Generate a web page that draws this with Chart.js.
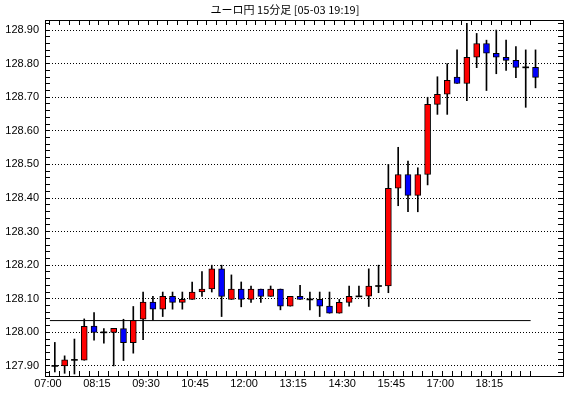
<!DOCTYPE html>
<html lang="ja">
<head>
<meta charset="UTF-8">
<title>ユーロ円 15分足</title>
<script src="https://cdn.jsdelivr.net/npm/chart.js@4.4.0/dist/chart.umd.min.js"></script>
<style>
  body { margin: 0; background: #fff; }
  #wrap { width: 570px; height: 398px; }
</style>
</head>
<body>
<div id="wrap"><canvas id="chart"></canvas></div>
<script>
    const chartTitle = 'ユーロ円 15分足 [05-03 19:19]';
    // one label every 5 bars (75 min)
    const timeLabels = ['07:00', '08:15', '09:30', '10:45', '12:00', '13:15', '14:30', '15:45', '17:00', '18:15'];
    const yMajor = [127.9, 128.0, 128.1, 128.2, 128.3, 128.4, 128.5, 128.6, 128.7, 128.8, 128.9];

    // 15 minute candles, 07:00 .. 19:15
    const opens = [127.900, 127.900, 127.918, 127.917, 128.019, 128.000, 128.000, 128.011, 127.969, 128.039,
                   128.090, 128.069, 128.107, 128.089, 128.098, 128.120, 128.129, 128.189, 128.098, 128.129,
                   128.098, 128.129, 128.107, 128.129, 128.078, 128.107, 128.098, 128.098, 128.078, 128.057,
                   128.089, 128.107, 128.108, 128.138, 128.138, 128.429, 128.470, 128.408, 128.470, 128.679,
                   128.709, 128.760, 128.741, 128.819, 128.860, 128.831, 128.819, 128.810, 128.789, 128.789];
    const highs = [127.970, 127.930, 127.980, 128.040, 128.059, 128.011, 128.012, 128.039, 128.077, 128.120,
                   128.107, 128.120, 128.120, 128.120, 128.150, 128.181, 128.200, 128.200, 128.171, 128.150,
                   128.138, 128.129, 128.138, 128.129, 128.107, 128.140, 128.120, 128.120, 128.120, 128.098,
                   128.138, 128.138, 128.189, 128.200, 128.500, 128.551, 128.510, 128.490, 128.700, 128.761,
                   128.800, 128.841, 128.920, 128.890, 128.870, 128.900, 128.870, 128.851, 128.841, 128.841];
    const lows = [127.882, 127.878, 127.876, 127.917, 127.977, 127.968, 127.900, 127.916, 127.938, 127.978,
                  128.036, 128.047, 128.069, 128.069, 128.098, 128.107, 128.120, 128.047, 128.098, 128.076,
                  128.089, 128.089, 128.107, 128.067, 128.078, 128.098, 128.067, 128.047, 128.057, 128.057,
                  128.078, 128.107, 128.077, 128.118, 128.118, 128.377, 128.359, 128.359, 128.439, 128.649,
                  128.649, 128.741, 128.690, 128.788, 128.720, 128.770, 128.780, 128.758, 128.670, 128.728];
    const closes = [127.900, 127.918, 127.918, 128.018, 128.000, 128.000, 128.012, 127.969, 128.036, 128.090,
                    128.069, 128.107, 128.089, 128.098, 128.120, 128.129, 128.189, 128.107, 128.129, 128.098,
                    128.129, 128.107, 128.129, 128.078, 128.107, 128.098, 128.098, 128.078, 128.057, 128.089,
                    128.107, 128.107, 128.138, 128.138, 128.429, 128.470, 128.408, 128.470, 128.679, 128.709,
                    128.750, 128.741, 128.819, 128.860, 128.831, 128.819, 128.810, 128.789, 128.789, 128.759];

    // flat reference line
    const baseLine = 128.035;
    const baseFrom = -0.5;
    const baseTo = 48.5;

    const font = {family: 'Liberation Sans', size: 11};
    const slotTicks = s => { s.ticks = opens.map((_, i) => ({value: i - 0.5})); };
    const isMajor = v => Math.abs(v * 10 - Math.round(v * 10)) < 1e-6;
    const minorTicks = s => {
        s.ticks = [];
        for (let k = 0; k <= 52; k++) s.ticks.push({value: Math.round((127.88 + k * 0.02) * 100) / 100});
    };

    const wickData = opens.map((_, i) => ({x: i, y: [lows[i], highs[i]]}));
    const bodyData = opens.map((o, i) => o === closes[i]
        ? {x: i, y: [o - 0.0015, o + 0.0015]}
        : {x: i, y: [o, closes[i]]});
    const bodyColor = opens.map((o, i) => closes[i] > o ? '#ff0000' : (closes[i] < o ? '#0000ff' : '#000000'));
    const bodyBorder = opens.map((o, i) => o === closes[i] ? 0 : 1);

    new Chart(document.getElementById('chart'), {
        type: 'bar',
        data: {
            datasets: [
                {
                    type: 'line',
                    data: [{x: baseFrom, y: baseLine}, {x: baseTo, y: baseLine}],
                    borderColor: '#000',
                    borderWidth: 1,
                    pointRadius: 0,
                    order: 0
                },
                {
                    data: bodyData,
                    grouped: false,
                    barThickness: 6,
                    backgroundColor: bodyColor,
                    borderColor: '#000',
                    borderWidth: bodyBorder,
                    borderSkipped: false,
                    order: 1
                },
                {
                    data: wickData,
                    grouped: false,
                    barThickness: 1,
                    backgroundColor: '#000',
                    borderWidth: 0,
                    order: 2
                }
            ]
        },
        options: {
            responsive: true,
            maintainAspectRatio: false,
            animation: false,
            layout: {padding: 0},
            plugins: {
                legend: {display: false},
                tooltip: {enabled: false},
                title: {
                    display: true,
                    text: chartTitle,
                    color: '#000',
                    font: {family: 'Noto Sans CJK JP', size: 11, weight: 'normal'},
                    padding: {top: 3, bottom: 0}
                }
            },
            scales: {
                x: {
                    type: 'linear', position: 'bottom', min: -1, max: 51.8, offset: false,
                    afterBuildTicks: slotTicks,
                    afterFit: s => { s.height = 22; },
                    ticks: {
                        autoSkip: false, maxRotation: 0, padding: 6, labelOffset: -2, color: '#000', font: font,
                        callback: (v, i) => i % 5 === 0 ? timeLabels[i / 5] : ''
                    },
                    grid: {offset: false, drawOnChartArea: false, tickLength: -5, tickColor: '#000'},
                    border: {color: '#000'}
                },
                xTop: {
                    type: 'linear', position: 'top', min: -1, max: 51.8, offset: false,
                    afterBuildTicks: slotTicks,
                    afterFit: s => { s.height = 3.8; },
                    ticks: {display: false},
                    grid: {offset: false, drawOnChartArea: false, tickLength: -5, tickColor: '#000'},
                    border: {color: '#000'}
                },
                y: {
                    type: 'linear', position: 'left', min: 127.87, max: 128.93,
                    afterBuildTicks: minorTicks,
                    afterFit: s => { s.width = 45; },
                    ticks: {
                        autoSkip: false, padding: 11, color: '#000', font: font,
                        callback: v => isMajor(v) ? v.toFixed(2) : ''
                    },
                    grid: {
                        color: c => isMajor(c.tick.value) ? '#000' : 'rgba(0,0,0,0)',
                        tickColor: '#000', tickLength: -5
                    },
                    border: {color: '#000', dash: [1, 2]}
                },
                yRight: {
                    type: 'linear', position: 'right', min: 127.87, max: 128.93,
                    afterBuildTicks: minorTicks,
                    afterFit: s => { s.width = 7; },
                    ticks: {display: false},
                    grid: {drawOnChartArea: false, tickColor: '#000', tickLength: -5},
                    border: {color: '#000'}
                }
            }
        }
    });
</script>
</body>
</html>
